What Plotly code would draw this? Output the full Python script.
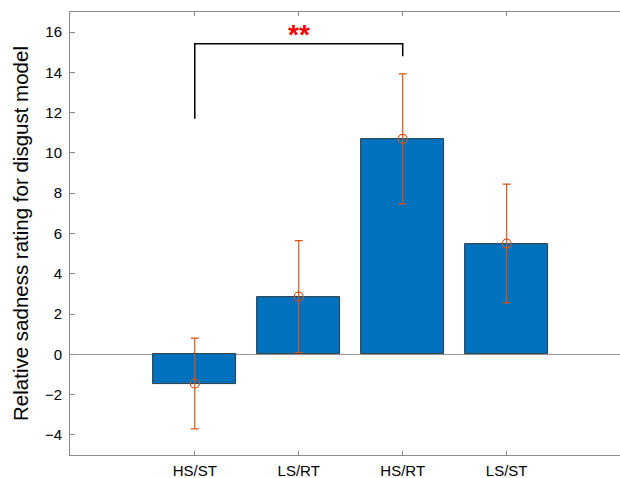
import plotly.graph_objects as go

categories = ["HS/ST", "LS/RT", "HS/RT", "LS/ST"]
positions = [1, 2, 3, 4]
means = [-1.45, 2.87, 10.70, 5.50]
errors = [2.25, 2.78, 3.23, 2.95]

bracket_x = [1, 1, 3, 3]
bracket_y = [11.7, 15.42, 15.42, 14.8]
star_x = 2
star_y = 16.05
star_text = "**"

y_ticks = [-4, -2, 0, 2, 4, 6, 8, 10, 12, 14, 16]

BLUE = "#0072BD"
ORANGE = "#D95319"
AX = "#8a8a8a"
FONT = "Liberation Sans, Arial, Helvetica, sans-serif"

fig = go.Figure()
fig.add_trace(go.Bar(
    x=positions, y=means, width=0.8,
    marker=dict(color=BLUE, line=dict(color="#1a1a1a", width=0.8)),
    showlegend=False, hoverinfo="skip",
))
fig.add_trace(go.Scatter(
    x=positions, y=means, mode="markers",
    marker=dict(symbol="circle-open", size=9, color=ORANGE, line=dict(width=1.2, color=ORANGE)),
    error_y=dict(type="data", array=errors, visible=True, color=ORANGE, thickness=1.2, width=4),
    showlegend=False, hoverinfo="skip",
))
fig.add_trace(go.Scatter(
    x=bracket_x, y=bracket_y, mode="lines",
    line=dict(color="black", width=1.5),
    showlegend=False, hoverinfo="skip",
))
fig.add_annotation(
    x=star_x, y=star_y, text="<b>" + star_text + "</b>", showarrow=False,
    font=dict(color="red", size=28, family=FONT), yanchor="middle", yshift=-3,
)

fig.update_layout(
    width=620, height=478,
    margin=dict(l=70, r=0, t=12, b=23),
    paper_bgcolor="white", plot_bgcolor="white",
    font=dict(family=FONT, color="black", size=15),
    bargap=0,
)
fig.update_xaxes(
    range=[-0.2, 5.09], tickvals=positions, ticktext=categories,
    showline=True, linecolor=AX, linewidth=1, mirror="ticks",
    ticks="inside", ticklen=4, tickcolor=AX, tickwidth=1,
    showgrid=False, zeroline=False, automargin=False,
    tickfont=dict(size=15, color="black"), ticklabelstandoff=2,
)
fig.update_yaxes(
    range=[-5, 17], tickvals=y_ticks,
    showline=True, linecolor=AX, linewidth=1, mirror=False,
    ticks="inside", ticklen=5, tickcolor=AX, tickwidth=1,
    showgrid=False, zeroline=True, zerolinecolor="#9a9a9a", zerolinewidth=1,
    automargin=False, tickfont=dict(size=15, color="black"), ticklabelstandoff=4,
    title=dict(text="Relative sadness rating for disgust model", font=dict(size=20.5, color="black"), standoff=10),
)

fig.write_html("out.html", config={"displayModeBar": False},
               post_script="document.body.style.margin='0';document.body.style.padding='0';")
